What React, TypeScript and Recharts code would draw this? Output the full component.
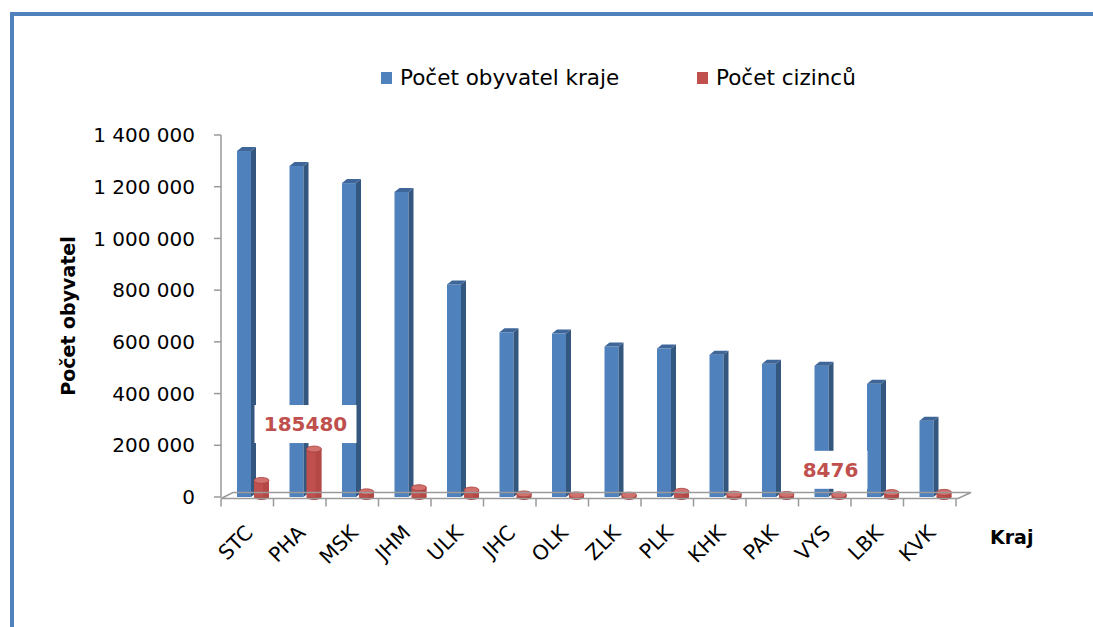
import React from 'react';
import { BarChart, Bar, XAxis, YAxis, ReferenceLine, LabelList } from 'recharts';

// kraje a počty obyvatel / cizinců
const regions = ['STC', 'PHA', 'MSK', 'JHM', 'ULK', 'JHC', 'OLK', 'ZLK', 'PLK', 'KHK', 'PAK', 'VYS', 'LBK', 'KVK'];
const population = [1338000, 1280000, 1214000, 1180000, 822000, 637000, 632000, 582000, 574000, 550000, 515000, 508000, 438000, 295000];
const foreigners = [64000, 185480, 20000, 36000, 27000, 12000, 8000, 7000, 22000, 11000, 10000, 8476, 17000, 18000];
const shownLabels = ['', '185480', '', '', '', '', '', '', '', '', '', '8476', '', ''];
const yTicks = [0, 200000, 400000, 600000, 800000, 1000000, 1200000, 1400000];

const FONT = '"DejaVu Sans", sans-serif';
const BLUE = '#4F81BD';
const RED = '#C0504D';

const data = regions.map((r, i) => ({
  kraj: r,
  obyvatel: population[i],
  cizinci: foreigners[i],
  popisek: shownLabels[i],
}));

const fmt = (v: number) => v.toString().replace(/\B(?=(\d{3})+(?!\d))/g, ' ');

const BlueBar = (props: any) => {
  const { x, y, width, height } = props;
  if (width == null || height == null) return null;
  const d = 5;
  const k = 4;
  return (
    <g>
      <rect x={x} y={y} width={width - d} height={height} fill={BLUE} />
      <polygon
        points={`${x + width - d},${y} ${x + width},${y - k} ${x + width},${y + height - k} ${x + width - d},${y + height}`}
        fill="#34577F"
      />
      <polygon
        points={`${x},${y} ${x + d},${y - k} ${x + width},${y - k} ${x + width - d},${y}`}
        fill="#3E6699"
      />
    </g>
  );
};

const RedBar = (props: any) => {
  const { x, y, width, height } = props;
  if (width == null || height == null) return null;
  const cx = x + width / 2;
  return (
    <g>
      <ellipse cx={cx} cy={y + height} rx={width / 2} ry={3} fill="#A8403D" />
      <rect x={x} y={y} width={width} height={height} fill={RED} />
      <rect x={x + width * 0.6} y={y} width={width * 0.4} height={height} fill="#A8403D" opacity={0.5} />
      <ellipse cx={cx} cy={y} rx={width / 2} ry={3} fill="#D2706D" stroke="#A8403D" strokeWidth={0.8} />
    </g>
  );
};

const Floor = (props: any) => {
  const { x1, y1, x2 } = props;
  const y = y1 + 1.5;
  const marks = [];
  const step = (x2 - x1 - 6) / 14;
  for (let k = 0; k <= 14; k++) {
    const mx = x1 + k * step;
    marks.push(<line key={k} x1={mx} y1={y} x2={mx} y2={y + 8} stroke="#9A9A9A" strokeWidth={1.5} />);
  }
  return (
    <g>
      <polyline
        points={`${x1},${y} ${x1 + 12},${y - 6} ${x2 + 9},${y - 6} ${x2 - 4},${y} ${x1},${y}`}
        fill="none"
        stroke="#9A9A9A"
        strokeWidth={1.5}
      />
      {marks}
    </g>
  );
};

const XTick = (props: any) => {
  const { x, y, payload } = props;
  const px = x + 1;
  const py = y + 29;
  return (
    <text
      x={px}
      y={py}
      transform={`rotate(-45 ${px} ${py})`}
      textAnchor="end"
      fontSize={20.5}
      fontFamily={FONT}
      fill="#000"
    >
      {payload.value}
    </text>
  );
};

const DataLabel = (props: any) => {
  const { x, y, value } = props;
  if (!value) return null;
  const cx = x - 1;
  const cy = y - 25;
  const w = String(value).length * 14 + 18;
  return (
    <g>
      <rect x={cx - w / 2} y={cy - 19} width={w} height={38} fill="#fff" />
      <text
        x={cx}
        y={cy + 7}
        textAnchor="middle"
        fontSize={20}
        fontWeight="bold"
        fontFamily={FONT}
        fill={RED}
      >
        {value}
      </text>
    </g>
  );
};

const LegendItem = ({ color, text, left }: { color: string; text: string; left: number }) => (
  <div style={{ position: 'absolute', left, top: 66, display: 'flex', alignItems: 'center' }}>
    <span style={{ width: 11, height: 12, background: color, display: 'inline-block', marginRight: 8 }} />
    <span style={{ fontFamily: FONT, fontSize: 21.5, color: '#000', lineHeight: '24px' }}>{text}</span>
  </div>
);

export default function App() {
  return (
    <div
      style={{
        position: 'absolute',
        left: 0,
        top: 0,
        width: 1093,
        height: 627,
        background: '#fff',
        overflow: 'hidden',
      }}
    >
      <div
        style={{
          position: 'absolute',
          left: 10,
          top: 12,
          width: 1200,
          height: 800,
          border: `4px solid ${BLUE}`,
          boxSizing: 'border-box',
        }}
      />
      <div style={{ position: 'absolute', left: 0, top: 0 }}>
        <BarChart
          width={1093}
          height={627}
          data={data}
          margin={{ top: 135, right: 131, left: 50, bottom: 50 }}
          barGap={-2}
        >
          <XAxis
            dataKey="kraj"
            height={80}
            padding={{ left: 6, right: 0 }}
            axisLine={false}
            tickLine={false}
            tick={<XTick />}
            interval={0}
            label={{
              value: 'Kraj',
              position: 'right',
              offset: 28,
              style: { fontFamily: FONT, fontWeight: 'bold', fontSize: 19, fill: '#000' },
            }}
          />
          <YAxis
            width={171}
            domain={[0, 1400000]}
            ticks={yTicks}
            interval={0}
            tickFormatter={fmt}
            axisLine={{ stroke: '#9A9A9A', strokeWidth: 1.5 }}
            tickLine={{ stroke: '#9A9A9A', strokeWidth: 1.5 }}
            tickSize={7}
            tickMargin={19}
            tick={{ fontFamily: FONT, fontSize: 20, fill: '#000' }}
            label={{
              value: 'Počet obyvatel',
              angle: -90,
              position: 'insideLeft',
              offset: 18,
              style: { fontFamily: FONT, fontWeight: 'bold', fontSize: 19, fill: '#000', textAnchor: 'middle' },
            }}
          />
          <ReferenceLine y={0} shape={<Floor />} />
          <Bar dataKey="obyvatel" barSize={19} shape={<BlueBar />} isAnimationActive={false} />
          <Bar dataKey="cizinci" barSize={15} shape={<RedBar />} isAnimationActive={false}>
            <LabelList dataKey="popisek" content={<DataLabel />} />
          </Bar>
        </BarChart>
      </div>
      <LegendItem color={BLUE} text="Počet obyvatel kraje" left={381} />
      <LegendItem color={RED} text="Počet cizinců" left={697} />
    </div>
  );
}
